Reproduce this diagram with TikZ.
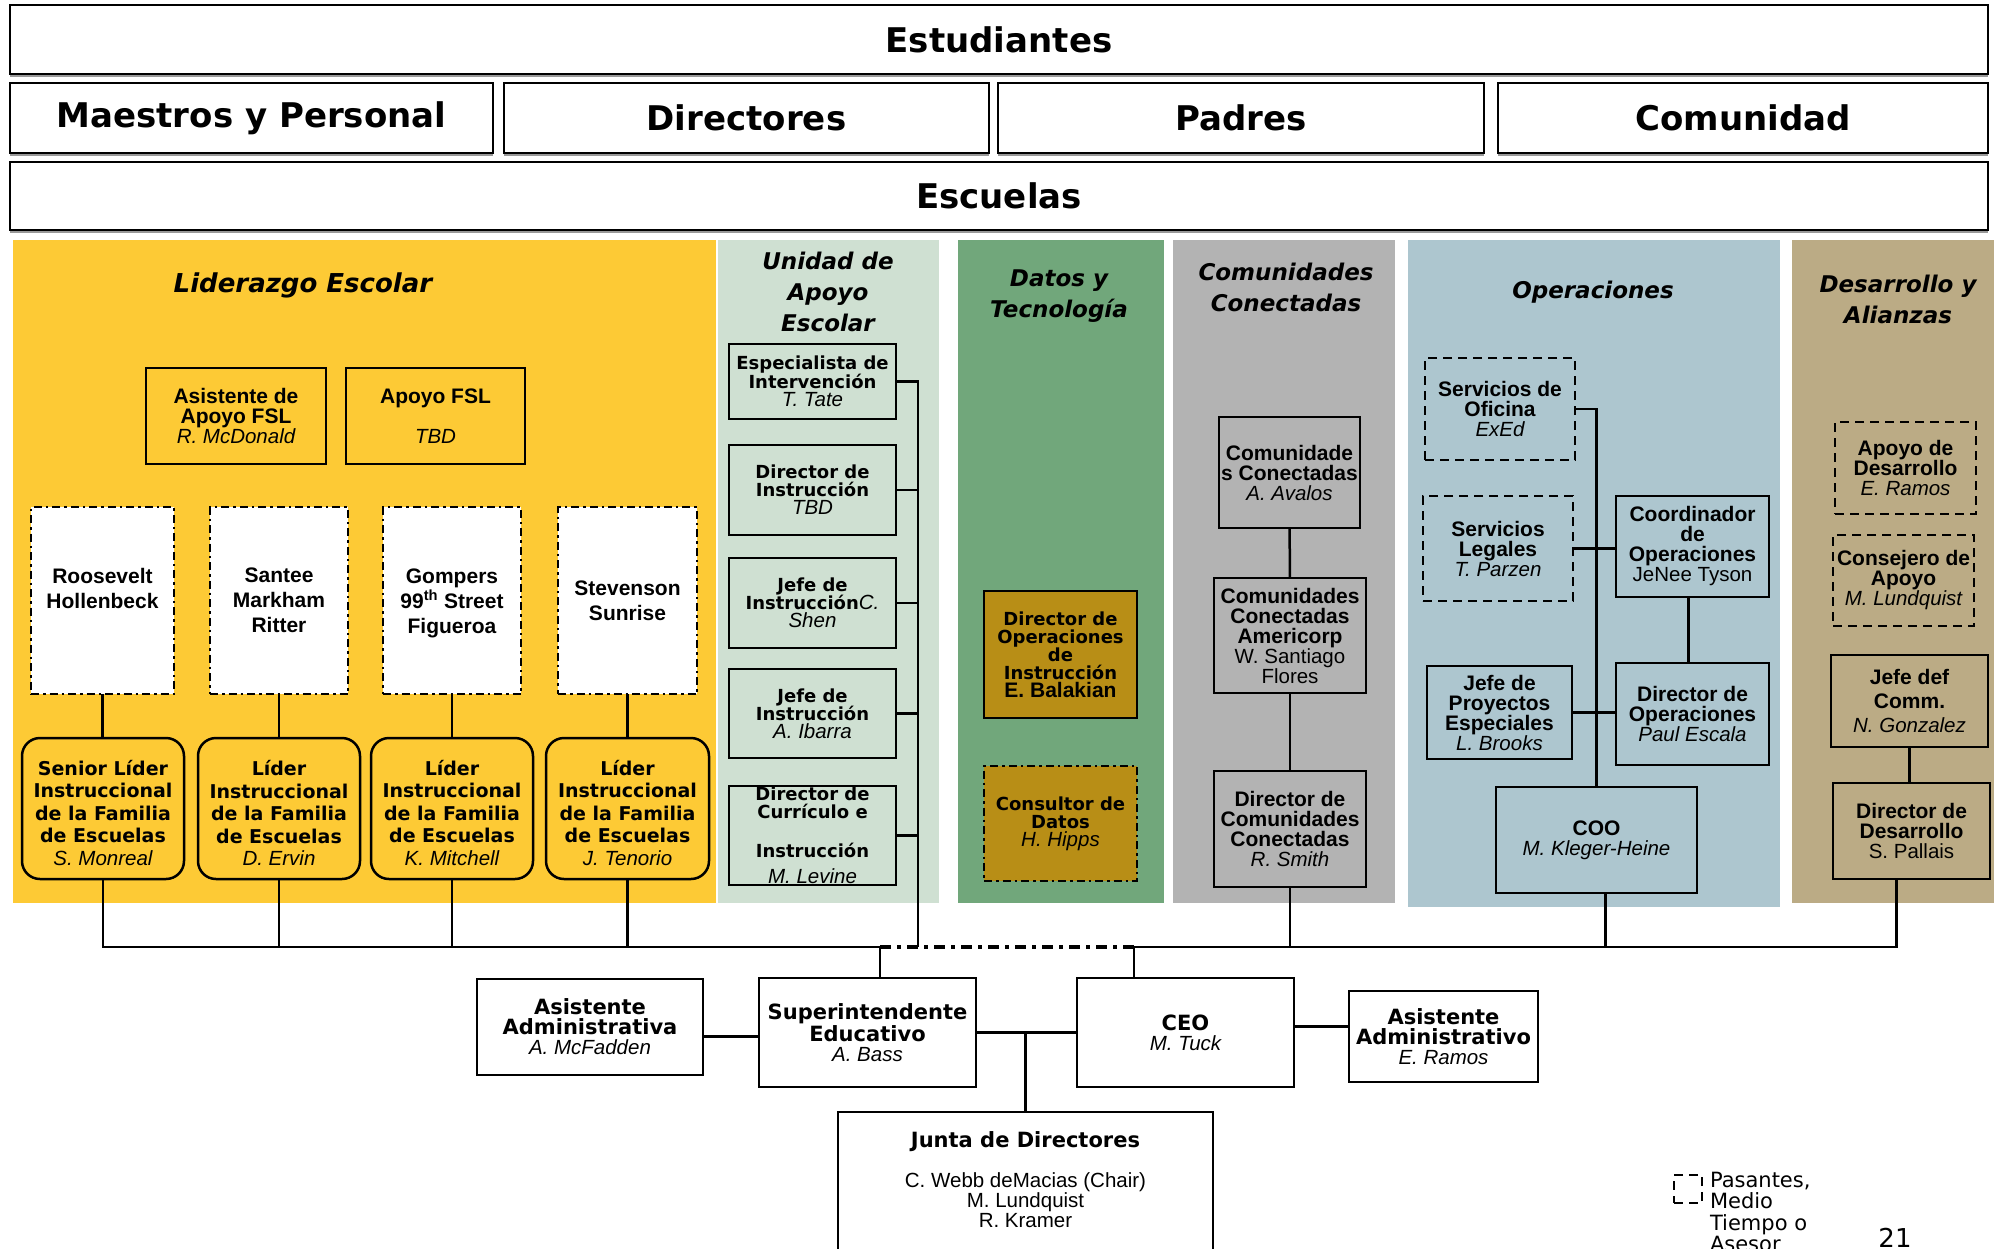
\documentclass[tikz,border=0pt]{standalone}
\usepackage{fontspec}
\setmainfont{Liberation Sans}
\newfontfamily\dv{DejaVu Sans}
\definecolor{cY}{HTML}{FDCA35}
\definecolor{cLG}{HTML}{CFE0D2}
\definecolor{cDG}{HTML}{71A77B}
\definecolor{cGR}{HTML}{B3B3B3}
\definecolor{cBL}{HTML}{ADC6CF}
\definecolor{cTN}{HTML}{BBAB85}
\definecolor{cBR}{HTML}{B88E16}
\newcommand\nm[1]{{\normalfont\itshape\fontsize{20.5}{20.5}\selectfont #1}}
\newcommand\rg[1]{{\normalfont\fontsize{20.5}{20.5}\selectfont #1}}
\newcommand\up{\rule{0pt}{24pt}}
\newcommand\bx[7]{\node[#1,minimum width={#5-#3},minimum height={#6-#4}] (#2) at ({(#3+#5)/2},{(#4+#6)/2}) {#7};}
\begin{document}
\begin{tikzpicture}[x=1pt,y=-1pt,
  every node/.style={inner sep=0pt,outer sep=0pt,align=center},
  bx/.style={draw,line width=2.5pt},
  hdr/.style={bx,font=\dv\bfseries\fontsize{34}{36}\selectfont},
  ttl/.style={font=\dv\bfseries\itshape\fontsize{23}{31}\selectfont},
  vb/.style={font=\dv\bfseries\fontsize{18}{18}\selectfont},
  vl/.style={font=\dv\bfseries\fontsize{19}{22.5}\selectfont},
  vbig/.style={font=\dv\bfseries\fontsize{21}{20}\selectfont},
  ab/.style={font=\bfseries\fontsize{21}{20}\selectfont},
  dd/.style={dash pattern=on 8pt off 4pt on 2.5pt off 4pt},
  ds/.style={dash pattern=on 9pt off 6pt},
  school/.style={bx,dd,fill=white,font=\bfseries\fontsize{21}{25}\selectfont},
  lid/.style={bx,rounded corners=18pt,vl},
  ubx/.style={bx,vb},
  dbx/.style={bx,vb,fill=cBR},
  abx/.style={bx,ab},
  bbx/.style={bx,vbig,fill=white},
  conn/.style={line width=2.5pt},
  busdash/.style={line width=3.5pt,line cap=butt,dash pattern=on 11pt off 6pt on 4pt off 6pt},
  shadowline/.style={line width=1.5pt,black!40},
]
\useasboundingbox (0,0) rectangle (1994,1248);
\clip (0,0) rectangle (1994,1248);
\fill[white] (0,0) rectangle (1994,1248);

% header rows
\bx{hdr}{est}{10}{5}{1988}{74}{Estudiantes}
\bx{hdr}{mae}{10}{83}{493}{153}{Maestros y Personal}
\bx{hdr}{dirs}{504}{83}{989}{153}{Directores}
\bx{hdr}{pad}{998}{83}{1484}{153}{Padres}
\bx{hdr}{comu}{1498}{83}{1988}{153}{Comunidad}
\bx{hdr}{esc}{10}{162}{1988}{230}{Escuelas}
\foreach \h in {est,mae,dirs,pad,comu,esc}{
  \draw[shadowline] ([yshift=-2.2pt]\h.south west) -- ([yshift=-2.2pt]\h.south east);
}

% panels
\fill[cY] (13,240) rectangle (716,903);
\fill[cLG] (718,240) rectangle (939,903);
\fill[cDG] (958,240) rectangle (1164,903);
\fill[cGR] (1173,240) rectangle (1395,903);
\fill[cBL] (1408,240) rectangle (1780,907);
\fill[cTN] (1792,240) rectangle (1994,903);

% panel titles
\node[ttl,font=\dv\bfseries\itshape\fontsize{26}{31}\selectfont] (tLid) at (303,285) {Liderazgo Escolar};
\node[ttl] (tUni) at (828,292) {Unidad de\\Apoyo\\Escolar};
\node[ttl] (tDat) at (1059,296) {Datos y\\Tecnología};
\node[ttl] (tCom) at (1286,287) {Comunidades\\Conectadas};
\node[ttl] (tOp) at (1593,292) {Operaciones};
\node[ttl] (tDes) at (1898,299) {Desarrollo y\\Alianzas};

% Liderazgo Escolar
\bx{abx}{afsl}{146}{368}{326}{464}{Asistente de\\Apoyo FSL\\\nm{R. McDonald}}
\bx{abx}{fsl}{346}{368}{525}{464}{Apoyo FSL\\[20.5pt]\nm{TBD}}
\bx{school}{s1}{31}{507}{174}{694}{Roosevelt\\Hollenbeck\\\mbox{}}
\bx{school}{s2}{210}{507}{348}{694}{Santee\\Markham\\Ritter}
\bx{school}{s3}{383}{507}{521}{694}{\rule{0pt}{20pt}Gompers\\99\textsuperscript{th} Street\\Figueroa}
\bx{school}{s4}{558}{507}{697}{694}{Stevenson\\Sunrise}
\bx{lid}{l1}{22}{738}{184}{879}{\up Senior Líder\\Instruccional\\de la Familia\\de Escuelas\\\nm{S. Monreal}}
\bx{lid}{l2}{198}{738}{360}{879}{\up Líder\\Instruccional\\de la Familia\\de Escuelas\\\nm{D. Ervin}}
\bx{lid}{l3}{371}{738}{533}{879}{\up Líder\\Instruccional\\de la Familia\\de Escuelas\\\nm{K. Mitchell}}
\bx{lid}{l4}{546}{738}{709}{879}{\up Líder\\Instruccional\\de la Familia\\de Escuelas\\\nm{J. Tenorio}}

% Unidad de Apoyo Escolar
\bx{ubx}{esp}{729}{344}{896}{419}{Especialista de\\Intervención\\\nm{T. Tate}}
\bx{ubx}{dinst}{729}{445}{896}{535}{Director de\\Instrucción\\\nm{TBD}}
\bx{ubx}{jefe1}{729}{558}{896}{648}{Jefe de\\Instrucción\nm{C.}\\\nm{Shen}}
\bx{ubx}{jefe2}{729}{669}{896}{758}{Jefe de\\Instrucción\\\nm{A. Ibarra}}
\bx{ubx}{dcurr}{729}{786}{896}{885}{Director de\\Currículo e\\[21pt]Instrucción\\[8pt]\nm{M. Levine}}

% Datos y Tecnologia
\bx{dbx}{dops}{984}{591}{1137}{718}{Director de\\Operaciones\\de\\Instrucción\\{\normalfont\bfseries\fontsize{21}{20}\selectfont E. Balakian}}
\bx{dbx,dd}{cons}{984}{766}{1137}{881}{Consultor de\\Datos\\\nm{H. Hipps}}

% Comunidades Conectadas
\bx{abx}{av}{1219}{417}{1360}{528}{Comunidade\\s Conectadas\\\nm{A. Avalos}}
\bx{abx}{am}{1214}{578}{1366}{693}{Comunidades\\Conectadas\\Americorp\\\rg{W. Santiago}\\\rg{Flores}}
\bx{abx}{sm}{1214}{771}{1366}{887}{Director de\\Comunidades\\Conectadas\\\nm{R. Smith}}

% Operaciones
\bx{abx,ds}{ofi}{1425}{358}{1575}{460}{Servicios de\\Oficina\\\nm{ExEd}}
\bx{abx,ds}{leg}{1423}{496}{1573}{601}{Servicios\\Legales\\\nm{T. Parzen}}
\bx{abx}{coord}{1616}{496}{1769}{597}{Coordinador\\de\\Operaciones\\\rg{JeNee Tyson}}
\bx{abx}{jefep}{1427}{666}{1572}{759}{Jefe de\\Proyectos\\Especiales\\\nm{L. Brooks}}
\bx{abx}{dirop}{1616}{663}{1769}{765}{Director de\\Operaciones\\\nm{Paul Escala}}
\bx{abx}{coo}{1496}{787}{1697}{893}{COO\\\nm{M. Kleger-Heine}}

% Desarrollo y Alianzas
\bx{abx,ds}{apd}{1835}{422}{1976}{514}{Apoyo de\\Desarrollo\\\nm{E. Ramos}}
\bx{abx,ds}{consj}{1833}{535}{1974}{626}{Consejero de\\Apoyo\\\nm{M. Lundquist}}
\bx{abx,font=\bfseries\fontsize{21}{24}\selectfont}{jefed}{1831}{655}{1988}{747}{Jefe def\\Comm.\\\nm{N. Gonzalez}}
\bx{abx}{dird}{1833}{783}{1990}{879}{Director de\\Desarrollo\\\rg{S. Pallais}}

% bottom
\bx{bbx}{aa}{477}{979}{703}{1075}{Asistente\\Administrativa\\\nm{A. McFadden}}
\bx{bbx}{sup}{759}{978}{976}{1087}{Superintendente\\Educativo\\\nm{A. Bass}}
\bx{bbx}{ceo}{1077}{978}{1294}{1087}{CEO\\\nm{M. Tuck}}
\bx{bbx}{aa2}{1349}{991}{1538}{1082}{Asistente\\Administrativo\\\nm{E. Ramos}}
\bx{bbx}{junta}{838}{1112}{1213}{1262}{Junta de Directores\\[20pt]\rg{C. Webb deMacias (Chair)}\\\rg{M. Lundquist}\\\rg{R. Kramer}\\[-6pt]\mbox{}}

% legend
\bx{bx,ds,line width=2pt}{lg}{1674}{1175}{1702}{1203}{}
\node[anchor=north west,align=left,font=\dv\fontsize{21}{21.5}\selectfont] (lgt) at (1710,1172) {Pasantes,\\Medio\\Tiempo o\\Asesor};
\node[anchor=base,font=\dv\fontsize{26}{28}\selectfont] (pg) at (1895,1247) {21};

% connectors
\coordinate (jL) at (880,947);
\coordinate (jR) at (1134,947);
\coordinate (uB) at (918,947);
\foreach \s/\l in {s1/l1,s2/l2,s3/l3,s4/l4}{
  \draw[conn] (\s.south) -- (\s.south |- \l.north);
  \draw[conn] (\l.south) |- (jL);
}
\draw[conn] (jL) -- (jL |- sup.north);
\draw[conn] (esp.east) -| (uB);
\foreach \u in {dinst,jefe1,jefe2,dcurr}{
  \draw[conn] (\u.east) -- (\u.east -| uB);
}
\draw[busdash] (jL) -- (jR);
\draw[conn] (jR) -- (jR |- ceo.north);
\draw[conn] (sm.south) |- (jR);
\draw[conn] ([xshift=9pt]coo.south) |- (jR);
\draw[conn] ([xshift=-15pt]dird.south) |- (jR);
\draw[conn] (av) -- (am);
\draw[conn] (am) -- (sm);
\draw[conn] (ofi.east) -| (coo.north);
\draw[conn] (leg.east) -- (leg.east -| coord.west);
\draw[conn] (jefep.east) -- (jefep.east -| dirop.west);
\draw[conn] ([xshift=-4pt]coord.south) -- ([xshift=-4pt]coord.south |- dirop.north);
\draw[conn] (jefed.south) -- (jefed.south |- dird.north);
\draw[conn] ([yshift=-4pt]sup.west) -- ([yshift=-4pt]sup.west -| aa.east);
\draw[conn] (sup.east) -- (sup.east -| ceo.west);
\draw[conn] (junta.north) -- (junta.north |- sup.east);
\draw[conn] ([yshift=6pt]ceo.east) -- ([yshift=6pt]ceo.east -| aa2.west);
\end{tikzpicture}
\end{document}
